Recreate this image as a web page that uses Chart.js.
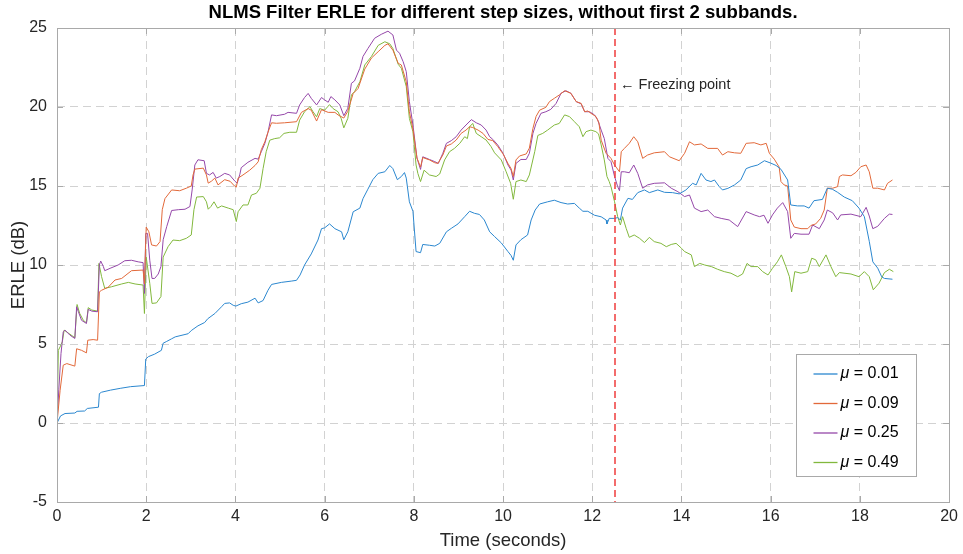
<!DOCTYPE html>
<html>
<head>
<meta charset="utf-8">
<script src="https://cdn.jsdelivr.net/npm/chart.js@4.4.1/dist/chart.umd.min.js"></script>
<style>
  html, body { margin: 0; padding: 0; background: #fff; }
  #wrap { width: 963px; height: 554px; }
</style>
</head>
<body>
<div id="wrap"><canvas id="c" width="963" height="554"></canvas></div>
<script>
// ERLE traces (dB) against time (s) for four NLMS step sizes
const t001 = [0,0.08,0.18,0.4,0.45,0.62,0.68,0.93,0.95,1.0,1.2,1.43,1.65,1.96,1.99,2.05,2.19,2.34,2.38,2.45,2.57,2.65,2.94,3.01,3.16,3.31,3.38,3.54,3.69,3.76,3.87,3.95,4.01,4.13,4.28,4.44,4.51,4.62,4.73,4.81,5.03,5.25,5.37,5.45,5.55,5.7,5.85,5.93,6.0,6.11,6.23,6.38,6.43,6.52,6.64,6.79,6.86,6.97,7.08,7.2,7.35,7.46,7.53,7.63,7.72,7.79,7.83,7.9,7.98,8.05,8.15,8.2,8.35,8.47,8.58,8.73,8.84,8.99,9.14,9.25,9.36,9.47,9.58,9.7,9.81,9.96,10.11,10.18,10.23,10.29,10.4,10.55,10.63,10.72,10.82,11.0,11.15,11.3,11.45,11.6,11.71,11.79,11.9,12.05,12.2,12.31,12.33,12.38,12.5,12.57,12.63,12.68,12.8,12.9,13.02,13.17,13.28,13.47,13.62,13.8,13.95,14.1,14.25,14.33,14.44,14.55,14.66,14.74,14.85,14.92,15.04,15.19,15.33,15.45,15.56,15.71,15.86,16.0,16.12,16.23,16.38,16.45,16.6,16.75,16.86,16.97,17.16,17.27,17.38,17.5,17.65,17.83,17.98,18.1,18.21,18.29,18.4,18.49,18.55,18.73];
const erle001 = [0,0.45,0.6,0.63,0.74,0.76,0.92,1.0,1.86,1.95,2.08,2.2,2.3,2.37,4.05,4.2,4.36,4.6,5.05,5.15,5.33,5.45,5.65,5.85,6.15,6.36,6.6,6.93,7.36,7.57,7.6,7.45,7.4,7.55,7.65,7.9,7.6,7.75,8.4,8.77,8.9,8.98,9.03,9.37,10.0,10.7,11.58,12.3,12.35,12.6,12.3,12.1,11.6,12.1,13.37,13.6,14.2,14.8,15.4,15.8,15.9,16.3,16.1,15.4,15.6,15.85,15.5,14.0,13.4,10.85,10.78,11.3,11.25,11.2,11.37,12.1,12.32,12.6,13.06,13.4,13.27,13.2,12.85,12.1,11.8,11.4,10.85,10.6,10.3,11.27,11.6,11.9,12.85,13.48,13.86,14.0,14.1,13.95,13.86,13.9,13.6,13.4,13.4,13.15,13.05,12.85,12.6,12.95,12.95,13.0,12.85,13.6,14.22,14.15,14.58,14.75,14.58,14.75,14.6,14.58,14.5,14.75,15.17,15.07,15.8,15.38,15.28,15.38,14.95,14.75,14.85,15.07,15.38,16.1,16.22,16.33,16.6,16.45,16.3,16.06,15.38,13.8,13.74,13.74,13.6,14.07,14.15,14.86,14.8,14.6,14.3,14.07,13.6,13.06,11.5,10.2,9.8,9.25,9.15,9.1];

const t009 = [0,0.07,0.14,0.22,0.4,0.44,0.55,0.66,0.69,0.81,0.91,0.95,1.0,1.15,1.3,1.45,1.67,1.93,1.96,2.0,2.06,2.12,2.23,2.31,2.36,2.42,2.57,2.75,2.9,3.01,3.05,3.09,3.28,3.35,3.39,3.46,3.54,3.61,3.76,3.88,3.98,4.02,4.06,4.17,4.32,4.44,4.51,4.58,4.66,4.73,4.81,4.92,5.1,5.37,5.48,5.63,5.7,5.82,5.93,6.08,6.23,6.3,6.43,6.52,6.64,6.75,6.9,7.05,7.2,7.35,7.42,7.53,7.65,7.72,7.83,7.9,7.98,8.07,8.15,8.2,8.35,8.47,8.54,8.65,8.73,8.84,8.95,9.06,9.17,9.25,9.32,9.44,9.55,9.66,9.77,9.88,10.0,10.11,10.18,10.23,10.29,10.37,10.52,10.59,10.67,10.74,10.82,10.96,11.04,11.15,11.26,11.38,11.52,11.64,11.75,11.83,11.9,11.97,12.08,12.15,12.2,12.31,12.42,12.5,12.61,12.65,12.72,12.83,12.93,13.02,13.13,13.24,13.39,13.62,13.73,13.95,14.07,14.18,14.29,14.44,14.59,14.81,14.92,15.04,15.19,15.33,15.45,15.63,15.78,15.9,15.97,16.08,16.19,16.23,16.3,16.38,16.45,16.53,16.68,16.83,16.9,17.01,17.12,17.2,17.27,17.39,17.5,17.54,17.61,17.8,17.91,18.02,18.14,18.21,18.29,18.4,18.55,18.62,18.73];
const erle009 = [0,2.07,3.66,3.76,3.6,4.7,4.6,4.44,5.24,5.28,5.24,8.3,8.4,8.6,9.05,9.15,9.64,9.68,8.8,12.4,12.1,11.27,11.2,11.48,13.5,14.2,14.75,14.7,14.86,15.0,15.7,16.07,16.13,15.7,15.18,15.3,15.5,15.07,15.4,15.3,15.0,14.93,15.5,15.7,16.0,16.3,16.53,17.3,17.8,18.4,19.0,18.97,19.0,19.07,19.66,19.9,19.8,19.11,19.83,19.66,19.66,19.5,19.3,19.73,20.86,21.17,22.4,23.1,23.5,23.9,24.0,23.6,22.76,22.66,21.6,19.7,18.6,16.77,16.2,16.8,16.65,16.47,16.43,16.96,17.53,17.66,17.91,18.33,18.54,18.75,18.7,18.54,18.33,17.95,17.87,17.5,17.03,16.43,16.1,15.6,16.65,16.9,17.03,17.4,18.65,19.4,19.8,19.98,20.34,20.55,20.76,21.03,20.87,20.34,20.23,19.7,19.75,19.6,19.4,19.0,17.9,17.07,16.75,16.33,15.9,17.17,17.38,17.7,18.12,17.8,16.75,16.96,17.1,17.17,16.85,16.6,17.07,17.8,17.6,17.66,17.38,17.38,16.96,17.17,17.1,17.07,17.7,17.74,17.6,17.7,17.07,16.7,16.2,15.28,15.07,15.0,12.85,12.4,12.3,12.3,12.5,12.6,12.95,13.48,14.86,14.86,14.96,15.6,15.7,15.65,15.86,16.22,16.33,15.9,14.86,14.86,14.75,15.17,15.38];

const t025 = [0,0.04,0.09,0.14,0.18,0.29,0.4,0.44,0.48,0.55,0.66,0.7,0.78,0.91,0.95,0.98,1.04,1.07,1.19,1.37,1.52,1.67,1.82,1.93,1.96,1.99,2.03,2.08,2.13,2.19,2.27,2.33,2.38,2.46,2.57,2.72,2.87,2.98,3.03,3.09,3.16,3.3,3.35,3.42,3.5,3.57,3.65,3.76,3.87,3.99,4.04,4.1,4.13,4.28,4.44,4.51,4.58,4.66,4.73,4.81,4.92,5.1,5.18,5.37,5.44,5.55,5.63,5.7,5.82,5.93,6.0,6.08,6.14,6.23,6.34,6.43,6.52,6.6,6.67,6.79,6.86,6.97,7.12,7.27,7.42,7.53,7.61,7.68,7.76,7.83,7.9,7.98,8.07,8.15,8.2,8.35,8.47,8.55,8.65,8.73,8.84,8.95,9.06,9.17,9.29,9.4,9.51,9.62,9.7,9.77,9.88,10.0,10.11,10.18,10.23,10.29,10.4,10.52,10.59,10.67,10.74,10.85,10.96,11.07,11.19,11.3,11.41,11.52,11.64,11.75,11.83,11.94,12.05,12.12,12.2,12.27,12.35,12.42,12.5,12.57,12.61,12.65,12.72,12.83,12.93,13.02,13.13,13.24,13.39,13.62,13.77,13.92,14.07,14.18,14.29,14.44,14.59,14.74,14.89,15.07,15.26,15.45,15.63,15.75,15.85,15.94,16.04,16.15,16.27,16.38,16.45,16.53,16.68,16.86,16.94,17.09,17.2,17.27,17.39,17.5,17.57,17.8,18.02,18.14,18.21,18.29,18.4,18.55,18.66,18.73];
const erle025 = [0,2.1,4.4,5.77,5.88,5.56,5.35,7.36,7.04,6.5,6.3,7.19,7.08,7.04,10.0,10.25,9.9,9.64,9.79,10.0,10.27,10.3,10.2,10.15,8.2,12.0,12.0,10.3,9.15,9.15,9.43,9.9,11.6,12.43,13.45,13.5,13.53,13.7,14.75,16.33,16.66,16.6,15.8,15.7,15.86,15.5,15.6,15.8,15.7,15.3,15.18,15.75,16.16,16.5,16.75,16.7,17.17,17.7,18.4,19.5,19.45,19.54,19.66,19.6,20.13,20.6,20.86,20.55,20.13,20.6,20.45,20.3,20.66,20.45,20.13,19.45,19.92,21.5,21.65,22.45,23.2,23.7,24.35,24.6,24.8,24.56,23.6,23.4,22.87,22.24,20.34,18.86,16.77,16.05,16.85,16.68,16.54,16.43,17.07,17.7,17.87,18.12,18.54,18.86,19.2,19.0,18.86,18.54,18.12,17.95,17.6,17.07,16.33,16.01,15.38,16.43,16.68,16.68,17.07,18.33,18.96,19.6,19.7,19.85,20.23,20.87,21.03,20.87,20.34,20.2,19.7,19.7,19.5,19.2,18.54,18.0,16.75,16.54,15.6,14.96,14.7,15.9,15.9,15.84,16.33,15.8,14.86,15.07,15.17,15.2,14.86,14.64,14.33,14.43,13.6,13.38,13.48,13.06,12.95,12.85,12.43,13.38,13.17,13.06,13.15,12.64,13.17,13.6,13.95,13.38,11.69,12.0,11.95,11.95,12.53,12.3,12.85,13.48,13.3,12.85,13.17,13.22,13.06,13.65,13.1,12.3,12.45,12.95,13.22,13.2];

const t049 = [0,0.03,0.07,0.12,0.16,0.25,0.4,0.45,0.51,0.59,0.66,0.7,0.78,0.91,0.94,1.0,1.07,1.22,1.45,1.6,1.75,1.93,1.96,2.0,2.08,2.13,2.23,2.33,2.38,2.49,2.6,2.75,2.9,3.01,3.07,3.13,3.28,3.35,3.39,3.45,3.52,3.6,3.69,3.84,3.95,4.02,4.06,4.17,4.28,4.36,4.47,4.55,4.62,4.69,4.77,4.88,4.99,5.09,5.22,5.37,5.44,5.55,5.67,5.74,5.82,5.89,6.0,6.11,6.19,6.3,6.37,6.43,6.52,6.6,6.67,6.79,6.9,7.05,7.2,7.35,7.46,7.53,7.65,7.72,7.83,7.9,7.98,8.05,8.09,8.15,8.23,8.35,8.5,8.58,8.69,8.8,8.91,9.03,9.14,9.2,9.25,9.32,9.4,9.51,9.62,9.73,9.81,9.96,10.07,10.17,10.23,10.29,10.4,10.52,10.59,10.71,10.78,10.89,11.0,11.15,11.26,11.38,11.49,11.6,11.71,11.79,11.86,11.97,12.08,12.14,12.2,12.27,12.33,12.38,12.42,12.5,12.57,12.63,12.68,12.76,12.83,12.94,13.06,13.17,13.28,13.39,13.54,13.66,13.77,13.88,14.0,14.07,14.22,14.29,14.41,14.52,14.67,14.81,14.96,15.11,15.26,15.37,15.47,15.56,15.71,15.82,15.94,16.04,16.15,16.24,16.34,16.42,16.47,16.54,16.68,16.83,16.92,17.01,17.09,17.24,17.35,17.46,17.54,17.8,17.98,18.1,18.21,18.3,18.43,18.55,18.66,18.75];
const erle049 = [0,4.6,4.82,5.14,5.88,5.7,5.4,7.5,6.93,6.5,6.34,7.3,7.15,7.08,10.1,9.26,8.52,8.62,8.8,8.9,8.8,8.73,6.93,10.5,8.84,7.57,7.6,8.0,10.5,11.16,11.58,11.54,11.69,11.9,13.5,14.3,14.33,14.0,13.53,13.7,14.0,13.6,13.74,13.6,13.5,12.75,13.37,13.8,13.8,14.43,14.54,14.86,16.1,17.17,17.9,18.0,18.05,18.33,18.4,18.4,19.17,19.7,20.02,19.7,19.38,19.9,19.8,20.15,19.9,19.7,19.28,18.68,19.28,20.76,20.97,21.6,22.66,23.2,23.9,24.13,24.0,23.7,22.7,22.45,21.3,19.28,18.43,16.33,15.8,15.28,16.0,15.7,15.6,15.76,16.65,17.17,17.38,17.7,18.12,18.0,18.75,18.96,18.33,18.12,17.91,17.5,17.1,16.65,15.9,15.17,14.16,15.28,15.38,15.28,15.7,17.17,18.2,18.33,18.54,18.86,18.96,19.5,19.39,19.07,18.75,18.12,18.44,18.54,18.44,18.3,17.6,16.65,15.6,15.28,14.96,14.0,13.06,12.53,13.06,12.32,11.75,11.9,11.69,11.42,11.75,11.48,11.37,11.16,11.3,11.37,11.06,10.85,10.64,9.9,10.1,10.0,9.9,9.73,9.58,9.48,9.26,9.43,10.1,9.9,9.9,9.58,9.37,9.79,10.2,10.64,9.9,9.26,8.3,9.58,9.48,9.58,10.43,10.33,9.9,10.64,9.9,9.26,9.52,9.43,9.26,9.58,9.26,8.43,8.85,9.52,9.73,9.58];

const stepSizes = ['0.01', '0.09', '0.25', '0.49'];
const seriesColors = ['#2b87cf', '#e2693a', '#9548a9', '#82b83d'];
const xTicks = [0, 2, 4, 6, 8, 10, 12, 14, 16, 18, 20];
const yTicks = [-5, 0, 5, 10, 15, 20, 25];
const freezeTime = 12.5;
const titleText = 'NLMS Filter ERLE for different step sizes, without first 2 subbands.';

const FONT = "'Liberation Sans', Arial, Helvetica, sans-serif";
const toPoints = (ts, vs) => ts.map((t, i) => ({ x: t, y: vs[i] }));
const traces = [[t001, erle001], [t009, erle009], [t025, erle025], [t049, erle049]];

const datasets = traces.map(([ts, vs], i) => ({
  label: 'μ = ' + stepSizes[i],
  data: toPoints(ts, vs),
  borderColor: seriesColors[i],
  borderWidth: 1,
  pointRadius: 0,
  tension: 0,
  fill: false
}));

// Title, axes box with inward ticks, freeze marker and the boxed legend
const decorations = {
  id: 'decorations',
  afterDraw(chart) {
    const { ctx, chartArea: a, scales: { x, y } } = chart;
    ctx.save();

    // title
    ctx.fillStyle = '#000';
    ctx.font = "bold 18.5px " + FONT;
    ctx.textAlign = 'center';
    ctx.textBaseline = 'middle';
    ctx.fillText(titleText, (a.left + a.right) / 2, 13);

    // freezing point marker
    const fx = Math.round(x.getPixelForValue(freezeTime));
    ctx.strokeStyle = '#f03c3c';
    ctx.lineWidth = 1.5;
    ctx.setLineDash([7, 4]);
    ctx.beginPath();
    ctx.moveTo(fx, a.top);
    ctx.lineTo(fx, a.bottom);
    ctx.stroke();
    ctx.setLineDash([]);
    ctx.fillStyle = '#262626';
    ctx.font = "14.5px " + FONT;
    ctx.textAlign = 'left';
    ctx.fillText('\u2190 Freezing point', fx + 5, y.getPixelForValue(21.4));

    // axes box
    ctx.strokeStyle = '#a9a9a9';
    ctx.lineWidth = 1;
    ctx.strokeRect(Math.round(a.left) + 0.5, Math.round(a.top) + 0.5,
                   Math.round(a.right - a.left), Math.round(a.bottom - a.top));
    const tl = 6;
    ctx.beginPath();
    xTicks.forEach(v => {
      const px = Math.round(x.getPixelForValue(v)) + 0.5;
      ctx.moveTo(px, a.bottom); ctx.lineTo(px, a.bottom - tl);
      ctx.moveTo(px, a.top); ctx.lineTo(px, a.top + tl);
    });
    yTicks.forEach(v => {
      const py = Math.round(y.getPixelForValue(v)) + 0.5;
      ctx.moveTo(a.left, py); ctx.lineTo(a.left + tl, py);
      ctx.moveTo(a.right, py); ctx.lineTo(a.right - tl, py);
    });
    ctx.stroke();

    // legend
    const bw = 120, bh = 122;
    const bx = Math.round(a.right - 33 - bw) + 0.5;
    const by = Math.round(a.bottom - 26 - bh) + 0.5;
    ctx.fillStyle = '#fff';
    ctx.fillRect(bx, by, bw, bh);
    ctx.strokeStyle = '#a9a9a9';
    ctx.strokeRect(bx, by, bw, bh);
    stepSizes.forEach((s, i) => {
      const cy = by + 19.5 + i * 29.5;
      ctx.strokeStyle = seriesColors[i];
      ctx.lineWidth = 1.3;
      ctx.beginPath();
      ctx.moveTo(bx + 17, cy);
      ctx.lineTo(bx + 41, cy);
      ctx.stroke();
      ctx.fillStyle = '#000';
      ctx.textAlign = 'left';
      ctx.textBaseline = 'middle';
      ctx.font = "italic 16px " + FONT;
      ctx.fillText('μ', bx + 44, cy);
      const mw = ctx.measureText('μ').width;
      ctx.font = "16px " + FONT;
      ctx.fillText(' = ' + s, bx + 44 + mw, cy);
    });
    ctx.restore();
  }
};

new Chart(document.getElementById('c'), {
  type: 'line',
  data: { datasets },
  options: {
    responsive: false,
    animation: false,
    events: [],
    layout: { padding: { top: 28, right: 13, left: 0, bottom: 0 } },
    plugins: { legend: { display: false }, tooltip: { enabled: false }, title: { display: false } },
    scales: {
      x: {
        type: 'linear',
        min: 0, max: 20,
        afterFit(s) { s.height = 52; },
        afterBuildTicks(s) { s.ticks = xTicks.map(v => ({ value: v })); },
        ticks: { color: '#262626', font: { family: FONT, size: 16 }, padding: 5, maxRotation: 0 },
        grid: { color: '#d2d2d2', lineWidth: 1, drawTicks: false },
        border: { display: false, dash: [8, 5] },
        title: { display: true, text: 'Time (seconds)', color: '#262626', font: { family: FONT, size: 18.5 }, padding: { top: 0, bottom: 2 } }
      },
      y: {
        type: 'linear',
        min: -5, max: 25,
        afterFit(s) { s.width = 57; },
        afterBuildTicks(s) { s.ticks = yTicks.map(v => ({ value: v })); },
        ticks: { color: '#262626', font: { family: FONT, size: 16 }, padding: 10 },
        grid: { color: '#d2d2d2', lineWidth: 1, drawTicks: false },
        border: { display: false, dash: [8, 5] },
        title: { display: true, text: 'ERLE (dB)', color: '#262626', font: { family: FONT, size: 18.5 }, padding: { top: 8, bottom: 0 } }
      }
    }
  },
  plugins: [decorations]
});
</script>
</body>
</html>
